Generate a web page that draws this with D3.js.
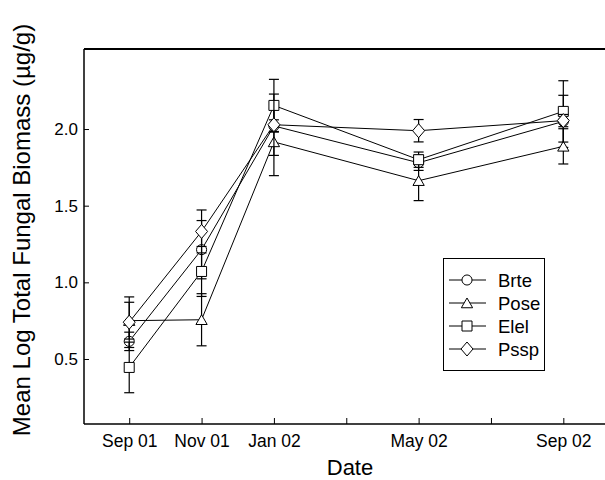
<!DOCTYPE html>
<html><head><meta charset="utf-8">
<script src="https://cdn.jsdelivr.net/npm/d3@7"></script>
<style>body{margin:0;background:#fff}svg{display:block}text{font-family:Arial,"Liberation Sans",sans-serif;fill:#000}</style>
</head><body><svg id="c" width="605" height="480"></svg>
<script>
const dateMonths = [0, 2, 4, 8, 12];
const tickMonths = [0, 2, 4, 6, 8, 10, 12];
const tickLabels = ["Sep 01", "Nov 01", "Jan 02", "", "May 02", "", "Sep 02"];
const yTicks = [0.5, 1.0, 1.5, 2.0];
const seriesNames = ["Brte", "Pose", "Elel", "Pssp"];
const brteMean = [0.615, 1.213, 2.02, 1.78, 2.05];
const brteSE   = [0.06, 0.19, 0.04, 0.05, 0.17];
const poseMean = [0.75, 0.756, 1.916, 1.663, 1.887];
const poseSE   = [0.12, 0.17, 0.22, 0.13, 0.115];
const elelMean = [0.445, 1.071, 2.154, 1.80, 2.115];
const elelSE   = [0.165, 0.163, 0.17, 0.05, 0.2];
const psspMean = [0.74, 1.332, 2.028, 1.989, 2.055];
const psspSE   = [0.165, 0.14, 0.2, 0.073, 0.04];

const means = [brteMean, poseMean, elelMean, psspMean];
const ses = [brteSE, poseSE, elelSE, psspSE];
const shapes = ["circle", "triangle", "square", "diamond"];
const FONT = "Arial, 'Liberation Sans', sans-serif";

const svg = d3.select("#c");
const x = d3.scaleLinear().domain([-1.25, 13.18]).range([84, 606]);
const y = d3.scaleLinear().domain([0.076, 2.522]).range([424, 49]);

// frame
svg.append("line").attr("x1", 84).attr("x2", 605).attr("y1", 49).attr("y2", 49).attr("stroke", "#000").attr("stroke-width", 1.8);

const xAxis = d3.axisBottom(x).tickValues(tickMonths).tickSize(-6).tickPadding(11)
  .tickFormat(d => tickLabels[tickMonths.indexOf(d)]);
const gx = svg.append("g").attr("transform", "translate(0,424)").call(xAxis);
gx.select(".domain").attr("d", "M84,0H605").attr("stroke-width", 1.5);
gx.selectAll(".tick line").attr("stroke", "#000");
gx.selectAll("text").attr("font-size", 17.5).style("font-family", FONT).attr("dy", "0.71em").attr("y", 11);

const yAxis = d3.axisLeft(y).tickValues(yTicks).tickSize(-5).tickPadding(6).tickFormat(d3.format(".1f"));
const gy = svg.append("g").attr("transform", "translate(84,0)").call(yAxis);
gy.select(".domain").attr("d", "M0,49V424").attr("stroke-width", 1.5);
gy.selectAll("text").attr("font-size", 17).style("font-family", FONT);

svg.append("text").attr("x", 350).attr("y", 475).attr("text-anchor", "middle").attr("font-size", 22).text("Date");
svg.append("text").attr("transform", "translate(30,230) rotate(-90)").attr("text-anchor", "middle")
  .attr("font-size", 24).text("Mean Log Total Fungal Biomass (\u00b5g/g)");

const symbolPath = {
  circle: d3.symbol().type(d3.symbolCircle).size(80)(),
  triangle: d3.symbol().type(d3.symbolTriangle).size(55)(),
  square: d3.symbol().type(d3.symbolSquare).size(100)(),
  diamond: "M0,-7L6,0L0,7L-6,0Z"
};
const triOffset = 1.5;

const line = d3.line().x((d, i) => x(dateMonths[i])).y(d => y(d));

seriesNames.forEach((name, s) => {
  const g = svg.append("g");
  const m = means[s], e = ses[s];
  m.forEach((v, i) => {
    const cx = x(dateMonths[i]);
    g.append("line").attr("x1", cx).attr("x2", cx).attr("y1", y(v - e[i])).attr("y2", y(v + e[i])).attr("stroke", "#000").attr("stroke-width", 1.2);
    [v - e[i], v + e[i]].forEach(w => g.append("line").attr("x1", cx - 5).attr("x2", cx + 5).attr("y1", y(w)).attr("y2", y(w)).attr("stroke", "#000").attr("stroke-width", 1.2));
  });
  g.append("path").attr("d", line(m)).attr("fill", "none").attr("stroke", "#000").attr("stroke-width", 1);
  m.forEach((v, i) => {
    g.append("path").attr("d", symbolPath[shapes[s]])
      .attr("transform", `translate(${x(dateMonths[i])},${y(v) + (shapes[s] === "triangle" ? triOffset : 0)})`)
      .attr("fill", "#fff").attr("stroke", "#000").attr("stroke-width", 1);
  });
});

// legend
const lg = svg.append("g");
lg.append("rect").attr("x", 443.5).attr("y", 258.5).attr("width", 101).attr("height", 112).attr("fill", "#fff").attr("stroke", "#000").attr("stroke-width", 1);
seriesNames.forEach((name, s) => {
  const ly = 280 + s * 23;
  lg.append("line").attr("x1", 449).attr("x2", 486).attr("y1", ly).attr("y2", ly).attr("stroke", "#000").attr("stroke-width", 1);
  lg.append("path").attr("d", symbolPath[shapes[s]])
    .attr("transform", `translate(467,${ly + (shapes[s] === "triangle" ? triOffset : 0)})`)
    .attr("fill", "#fff").attr("stroke", "#000");
  lg.append("text").attr("x", 498).attr("y", ly + 6.5).attr("font-size", 18.5).text(name);
});
</script></body></html>
